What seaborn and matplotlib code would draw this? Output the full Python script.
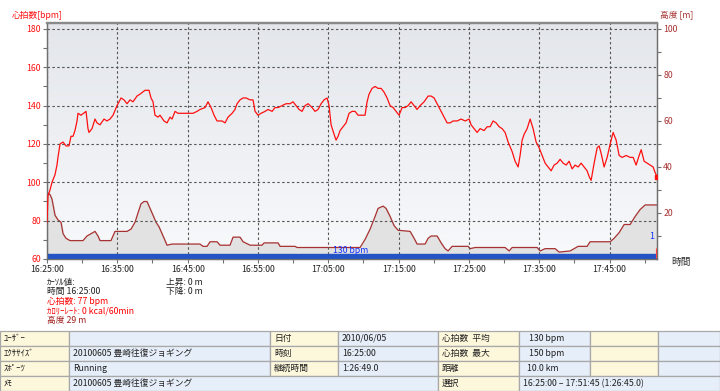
import numpy as np
import matplotlib.pyplot as plt
import seaborn as sns
from matplotlib.patches import Rectangle

# heart rate, minutes after 16:25:00
hr_min = [0.0, 0.14, 0.43, 0.71, 1.14, 1.42, 1.56, 1.85, 2.28, 2.70, 3.13, 3.41, 3.70, 3.98,
          4.27, 4.41, 4.84, 5.55, 5.83, 5.97, 6.40, 6.83, 7.11, 7.54, 8.11, 8.53, 8.96, 9.39,
          9.96, 10.53, 10.95, 11.38, 11.81, 12.23, 12.80, 13.23, 13.94, 14.51, 14.79, 15.08,
          15.36, 15.79, 16.07, 16.64, 17.07, 17.50, 17.78, 18.21, 18.63, 18.92, 19.91, 20.77,
          21.34, 21.76, 22.48, 22.90, 23.33, 23.76, 24.18, 24.89, 25.32, 25.75, 26.32, 26.74,
          27.03, 27.45, 27.88, 28.31, 28.88, 29.30, 29.59, 30.01, 30.44, 31.01, 31.44, 32.01,
          32.43, 32.86, 33.43, 34.00, 34.57, 34.99, 35.42, 35.85, 36.27, 36.70, 37.13, 37.70,
          38.12, 38.55, 38.98, 39.40, 39.83, 40.11, 40.40, 40.83, 41.11, 41.39, 41.68, 42.11,
          42.53, 42.96, 43.39, 43.81, 44.24, 44.81, 45.23, 45.52, 45.80, 46.23, 46.66, 47.08,
          47.51, 47.94, 48.36, 48.79, 49.22, 49.64, 50.07, 50.50, 50.92, 51.35, 51.78, 52.20,
          52.63, 53.06, 53.63, 54.20, 54.62, 55.05, 55.48, 55.90, 56.33, 56.90, 57.33, 57.75,
          58.32, 58.89, 59.46, 60.03, 60.31, 60.74, 61.17, 61.59, 62.16, 62.59, 63.02, 63.44,
          63.87, 64.30, 64.72, 65.15, 65.58, 66.15, 66.57, 67.00, 67.28, 67.57, 67.85, 68.28,
          68.71, 69.13, 69.56, 69.99, 70.41, 70.84, 71.27, 71.69, 72.12, 72.55, 72.97, 73.40,
          73.83, 74.25, 74.68, 75.11, 75.53, 75.96, 76.39, 76.81, 77.10, 77.38, 77.81, 78.24,
          78.52, 78.81, 79.23, 79.66, 80.09, 80.51, 80.94, 81.37, 81.79, 82.36, 82.93, 83.36,
          83.78, 84.21, 84.50, 84.92, 85.35, 85.78, 86.20, 86.49, 86.75]
hr_bpm = [79, 93, 96, 100, 104, 109, 113, 120, 121, 119, 119, 124, 124, 127,
          132, 136, 135, 137, 128, 126, 128, 133, 131, 130, 133, 132, 133, 135,
          140, 144, 143, 141, 143, 142, 145, 146, 148, 148, 144, 142,
          135, 134, 135, 132, 131, 134, 133, 137, 136, 136, 136, 136,
          137, 138, 139, 142, 139, 135, 132, 132, 131, 134, 136, 138,
          141, 143, 144, 144, 143, 143, 137, 135, 136, 137, 138, 137,
          139, 139, 140, 141, 141, 142, 140, 138, 137, 140, 141, 139,
          137, 138, 141, 143, 144, 140, 130, 125, 122, 124, 127, 129,
          131, 136, 137, 137, 135, 135, 135, 142, 146, 149, 150, 149,
          149, 147, 144, 140, 139, 137, 135, 139, 139, 140, 142, 140,
          138, 140, 142, 145, 145, 144, 141, 138, 135, 131, 131, 132,
          132, 133, 132, 133, 130, 128, 126, 128, 127, 129, 129, 132,
          131, 129, 128, 126, 121, 116, 111, 108, 114, 122, 125, 128,
          133, 128, 121, 118, 114, 110, 108, 106, 109, 110, 112, 110,
          109, 111, 107, 109, 108, 110, 108, 106, 103, 101, 110, 118,
          119, 115, 108, 113, 120, 126, 122, 114, 113, 114, 113, 113,
          109, 114, 117, 111, 110, 109, 108, 105, 103]

# altitude [m]
alt_min = [0, 0.43, 0.71, 1.14, 1.56, 1.99, 2.28, 2.70, 3.27, 5.12, 5.69, 6.26, 6.83, 7.25,
           7.54, 9.10, 9.67, 11.38, 11.95, 12.52, 12.94, 13.37, 13.80, 14.22, 14.65, 15.08,
           15.50, 15.93, 16.36, 16.79, 17.07, 17.78, 21.76, 22.19, 22.76, 23.19, 24.18, 24.61,
           26.03, 26.46, 27.45, 27.88, 28.88, 30.58, 30.87, 32.86, 33.14, 35.28, 35.56, 37.13,
           44.52, 45.23, 45.95, 46.66, 47.08, 47.79, 48.22, 48.79, 49.36, 49.93, 51.64, 52.20,
           52.63, 53.77, 54.20, 54.62, 55.48, 56.05, 56.61, 57.04, 57.61, 59.89, 60.17, 60.88,
           65.15, 65.72, 66.15, 69.70, 70.13, 70.84, 72.26, 72.83, 74.40, 75.53, 76.81, 77.24,
           80.09, 80.65, 81.37, 82.08, 82.93, 83.64, 84.35, 85.06, 86.06, 86.75]
alt_m = [29, 28, 26, 19, 17, 16, 11, 9, 8, 8, 10, 11, 12, 10,
         8, 8, 12, 12, 13, 16, 20, 24, 25, 25, 22, 19,
         16, 14, 11, 8, 6, 6.5, 6.5, 5.5, 5.5, 7.5, 7.5, 6,
         6, 9.5, 9.5, 7.5, 6, 6, 7, 7, 5.5, 5.5, 5, 5,
         5, 8.5, 13, 18.5, 22, 23, 22, 18.5, 14.5, 12.5, 12, 9,
         6.5, 6.5, 9, 10, 10, 7, 4.5, 3.5, 5.5, 5.5, 4.5, 5,
         5, 3.5, 5, 5, 3.5, 4.5, 4.5, 3, 3.5, 5.5, 5.5, 7.5,
         7.5, 9, 11.5, 15, 15, 18.5, 21.5, 23.5, 23.5, 23.5]

xtick_min = [0, 10, 20, 30, 40, 50, 60, 70, 80]
xtick_lab = ["16:25:00", "16:35:00", "16:45:00", "16:55:00", "17:05:00",
             "17:15:00", "17:25:00", "17:35:00", "17:45:00"]

cursor_lines = [("ｶｰｿﾙ値:", "#202020"), ("時間 16:25:00", "#202020"),
                ("心拍数: 77 bpm", "#ff0000"), ("ｶﾛﾘｰﾚｰﾄ: 0 kcal/60min", "#ff0000"),
                ("高度 29 m", "#a02020")]
climb_lines = ["上昇: 0 m", "下降: 0 m"]

# table: (x0, x1, colour, text) per row, pixel columns
CREAM, BLUE = "#fdf8dc", "#e6eef9"
table_rows = [
    [(0, 69, CREAM, "ﾕｰｻﾞｰ"), (69, 270, BLUE, ""), (270, 338, CREAM, "日付"),
     (338, 438, BLUE, "2010/06/05"), (438, 519, CREAM, "心拍数  平均"),
     (519, 590, BLUE, "   130 bpm"), (590, 658, CREAM, ""), (658, 720, BLUE, "")],
    [(0, 69, CREAM, "ｴｸｻｻｲｽﾞ"), (69, 270, BLUE, "20100605 豊崎往復ジョギング"), (270, 338, CREAM, "時刻"),
     (338, 438, BLUE, "16:25:00"), (438, 519, CREAM, "心拍数  最大"),
     (519, 590, BLUE, "   150 bpm"), (590, 658, CREAM, ""), (658, 720, BLUE, "")],
    [(0, 69, CREAM, "ｽﾎﾟｰﾂ"), (69, 270, BLUE, "Running"), (270, 338, CREAM, "継続時間"),
     (338, 438, BLUE, "1:26:49.0"), (438, 519, CREAM, "距離"),
     (519, 590, BLUE, "  10.0 km"), (590, 658, CREAM, ""), (658, 720, BLUE, "")],
    [(0, 69, CREAM, "ﾒﾓ"), (69, 438, BLUE, "20100605 豊崎往復ジョギング"), (438, 519, CREAM, "選択"),
     (519, 720, BLUE, "16:25:00 – 17:51:45 (1:26:45.0)")],
]
row_edges = [331, 346, 361, 376, 391]

sns.set_style("white")
plt.rcParams['font.family'] = ['Noto Sans CJK JP', 'DejaVu Sans']
FS = 6.3
W, H = 720, 391

fig = plt.figure(figsize=(7.2, 3.91), dpi=100)
ax = fig.add_axes([47 / W, 132 / H, 610 / W, 236 / H])
ax2 = ax.twinx()
ax.set_zorder(ax2.get_zorder() + 1)
ax.patch.set_visible(False)

# gradient background
grad = np.linspace(0, 1, 100).reshape(-1, 1)
ax2.imshow(grad, cmap=sns.blend_palette(["#e3e6eb", "#f8f9fb"], as_cmap=True),
           extent=[0, 1, 0, 1], transform=ax2.transAxes, aspect='auto', zorder=0)

# altitude on right axis
ax2.fill_between(alt_min, alt_m, 0, color="#e2e2e2", zorder=1)
sns.lineplot(x=alt_min, y=alt_m, ax=ax2, color="#a83232", lw=0.9, estimator=None, sort=False, zorder=2)

# heart rate on left axis
ax.axhspan(60, 62.6, color="#2453c6", zorder=1)
sns.lineplot(x=hr_min, y=hr_bpm, ax=ax, color="#ff1010", lw=0.9, estimator=None, sort=False, zorder=3)
ax.plot(hr_min[-1], hr_bpm[-1], marker="s", ms=3, color="#ff1010", zorder=4)
ax.text(43.2, 64.6, "130 bpm", color="#1030ff", fontsize=FS, ha="center", va="center", zorder=4)
ax.text(86.4, 71.5, "1", color="#1030ff", fontsize=FS, ha="right", va="center", zorder=4)
ax.vlines(86.6, 60.3, 65.5, color="#ff4040", lw=0.8, zorder=4)

ax.set_xlim(0, 86.75)
ax.set_ylim(60, 183.1)
ax2.set_ylim(0, 102.6)

ax.set_xticks(xtick_min)
ax.set_xticklabels(xtick_lab)
ax.set_xticks(np.arange(5, 90, 10), minor=True)
ax.set_yticks(range(60, 181, 20))
ax.set_yticks(range(70, 181, 20), minor=True)
ax2.set_yticks(range(20, 101, 20))
ax2.set_yticklabels(["20", "40", "60", "80", "100"])
ax2.set_yticks(range(10, 101, 20), minor=True)

ax.grid(True, which="major", ls=(0, (2.2, 2.2)), color="#555555", lw=0.8)
ax2.grid(False)
ax.set_xlabel("")
ax.set_ylabel("")
ax2.set_ylabel("")

for a in (ax, ax2):
    a.tick_params(which="both", direction="out", length=3, width=0.8, color="#707070",
                  labelsize=FS, pad=1.5)
    for s in a.spines.values():
        s.set_color("#707070")
        s.set_linewidth(0.9)
    a.spines["top"].set_linewidth(1.6)
    a.spines["top"].set_color("#8a8a8a")
ax.tick_params(axis="y", which="both", left=True, labelcolor="#ff1010")
ax.tick_params(axis="x", which="both", bottom=True, labelcolor="#202020")
ax2.tick_params(axis="y", which="both", right=True, labelcolor="#a83232")

fig.text(12 / W, 1 - 15 / H, "心拍数[bpm]", color="#ff1010", fontsize=FS, va="center")
fig.text(660 / W, 1 - 15 / H, "高度 [m]", color="#a83232", fontsize=FS, va="center")
fig.text(671 / W, 1 - 262 / H, "時間", color="#303030", fontsize=FS + 0.7, va="center")

for i, (txt, col) in enumerate(cursor_lines):
    fig.text(47 / W, 1 - (282 + i * 9.6) / H, txt, color=col, fontsize=FS, va="center")
for i, txt in enumerate(climb_lines):
    fig.text(166 / W, 1 - (282 + i * 9.6) / H, txt, color="#202020", fontsize=FS, va="center")

# info table
for r, row in enumerate(table_rows):
    y0, y1 = row_edges[r], row_edges[r + 1]
    for x0, x1, col, txt in row:
        fig.patches.append(Rectangle((x0 / W, 1 - y1 / H), (x1 - x0) / W, (y1 - y0) / H,
                                     transform=fig.transFigure, facecolor=col,
                                     edgecolor="#a8a8a8", lw=0.9))
        if txt:
            fig.text((x0 + 4) / W, 1 - (y0 + y1) / 2 / H, txt, color="#202020",
                     fontsize=FS, va="center")

fig.savefig("out.png", dpi=100)
